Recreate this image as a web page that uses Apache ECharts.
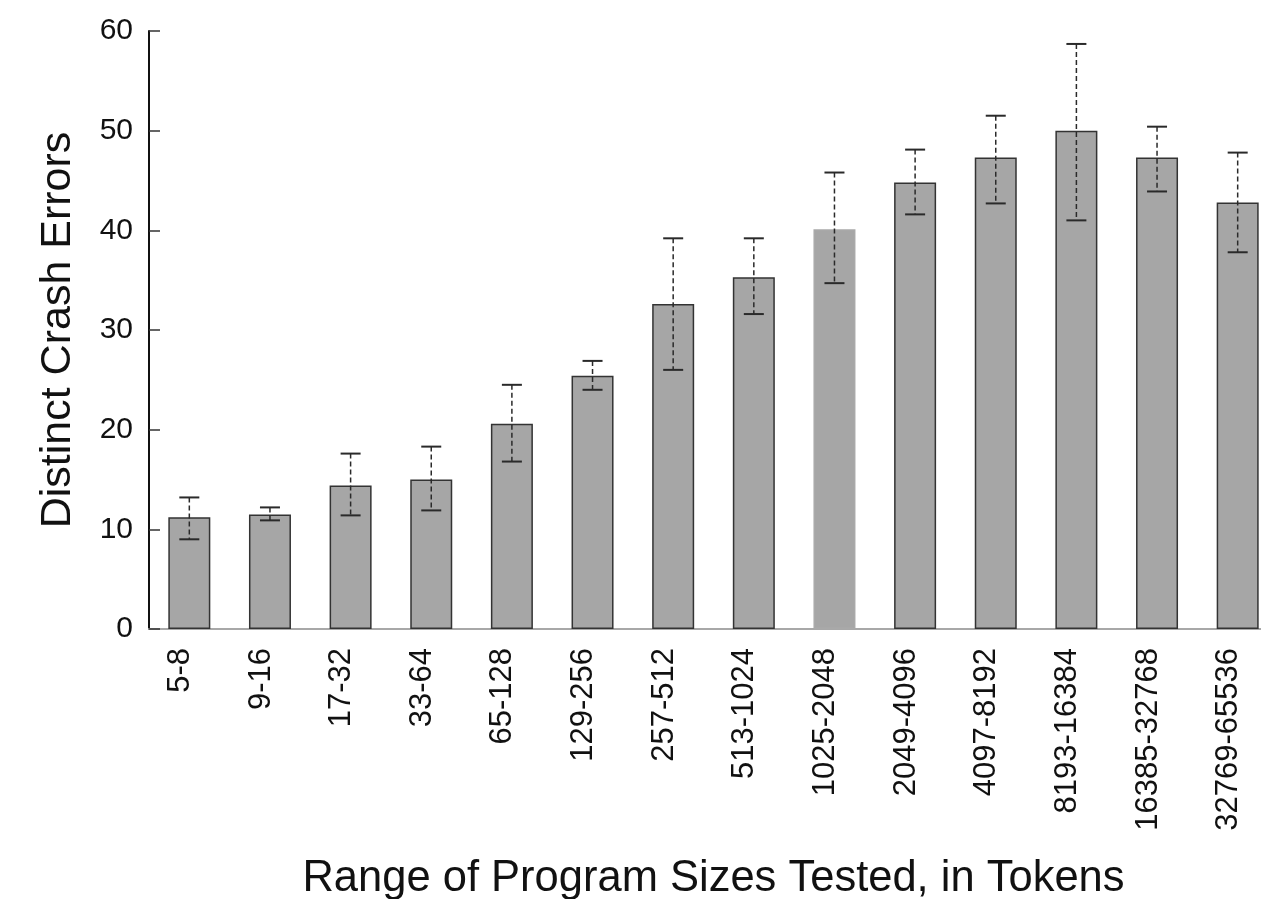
<!DOCTYPE html>
<html>
<head>
<meta charset="utf-8">
<title>Distinct Crash Errors by Program Size</title>
<script src="https://cdn.jsdelivr.net/npm/echarts@6/dist/echarts.min.js"></script>
<style>
  html, body { margin: 0; padding: 0; background: #fff; overflow: hidden; }
  #chart { width: 1261px; height: 899px; }
</style>
</head>
<body>
<div id="chart"></div>
<script>
// Token-count ranges (x categories)
const sizeRanges = [
  '5-8', '9-16', '17-32', '33-64', '65-128', '129-256', '257-512',
  '513-1024', '1025-2048', '2049-4096', '4097-8192', '8193-16384',
  '16385-32768', '32769-65536'
];
// Mean number of distinct crash errors per range
const meanErrors = [11.2, 11.5, 14.4, 15.0, 20.6, 25.4, 32.6, 35.3, 40.1, 44.8, 47.3, 50.0, 47.3, 42.8];
// Error bar extents
const errLow  = [9.0, 10.9, 11.4, 11.9, 16.8, 24.0, 26.0, 31.6, 34.7, 41.6, 42.7, 41.0, 43.9, 37.8];
const errHigh = [13.2, 12.2, 17.6, 18.3, 24.5, 26.9, 39.2, 39.2, 45.8, 48.1, 51.5, 58.7, 50.4, 47.8];
// Y axis ticks
const yMin = 0, yMax = 60, yStep = 10;

const FONT = '"Liberation Sans", Arial, Helvetica, sans-serif';
const chart = echarts.init(document.getElementById('chart'), null, { renderer: 'canvas' });

const barData = meanErrors.map((v, i) => (
  i === 8
    ? { value: v, itemStyle: { borderColor: '#a9a9a9' } }
    : v
));
const errData = sizeRanges.map((_, i) => [i, errLow[i], errHigh[i]]);

function renderErrorBar(params, api) {
  const x = api.value(0);
  const lo = api.coord([x, api.value(1)]);
  const hi = api.coord([x, api.value(2)]);
  const half = 10;
  const stroke = '#2a2a2a';
  return {
    type: 'group',
    children: [
      {
        type: 'line',
        shape: { x1: hi[0], y1: hi[1], x2: lo[0], y2: lo[1] },
        style: { stroke: stroke, lineWidth: 1.5, lineDash: [5, 3] }
      },
      {
        type: 'line',
        shape: { x1: hi[0] - half, y1: hi[1], x2: hi[0] + half, y2: hi[1] },
        style: { stroke: stroke, lineWidth: 2 }
      },
      {
        type: 'line',
        shape: { x1: lo[0] - half, y1: lo[1], x2: lo[0] + half, y2: lo[1] },
        style: { stroke: stroke, lineWidth: 2 }
      }
    ]
  };
}

chart.setOption({
  backgroundColor: '#ffffff',
  animation: false,
  // the plot area runs slightly past the right edge of the canvas
  grid: {
    left: 149, top: 31, width: 1129, height: 598,
    containLabel: false,
    outerBoundsMode: 'none'
  },
  xAxis: {
    type: 'category',
    data: sizeRanges,
    name: 'Range of Program Sizes Tested, in Tokens',
    nameLocation: 'middle',
    nameGap: 228,
    nameTextStyle: { fontFamily: FONT, fontSize: 43.5, color: '#111' },
    axisLine: { show: true, lineStyle: { color: '#a8a8a8', width: 2 } },
    axisTick: { show: false },
    axisLabel: {
      rotate: 90,
      margin: 19,
      formatter: (v) => '{t|' + v + '}',
      rich: {
        t: {
          fontFamily: FONT,
          fontSize: 31,
          color: '#111',
          padding: [0, 0, 18, 0]
        }
      }
    },
    splitLine: { show: false }
  },
  yAxis: {
    type: 'value',
    min: yMin,
    max: yMax,
    interval: yStep,
    name: 'Distinct Crash Errors',
    nameLocation: 'middle',
    nameGap: 69,
    nameRotate: 90,
    nameTextStyle: { fontFamily: FONT, fontSize: 43, color: '#111' },
    axisLine: { show: true, lineStyle: { color: '#111', width: 2 } },
    axisTick: { show: true, inside: true, length: 11, lineStyle: { color: '#333', width: 1.5 } },
    axisLabel: { margin: 16, fontFamily: FONT, fontSize: 30, color: '#111' },
    splitLine: { show: false }
  },
  series: [
    {
      type: 'bar',
      data: barData,
      barWidth: 42,
      itemStyle: { color: '#a6a6a6', borderColor: '#333', borderWidth: 1.5 },
      z: 2
    },
    {
      type: 'custom',
      data: errData,
      encode: { x: 0, y: [1, 2] },
      renderItem: renderErrorBar,
      z: 3
    }
  ]
});
</script>
</body>
</html>
